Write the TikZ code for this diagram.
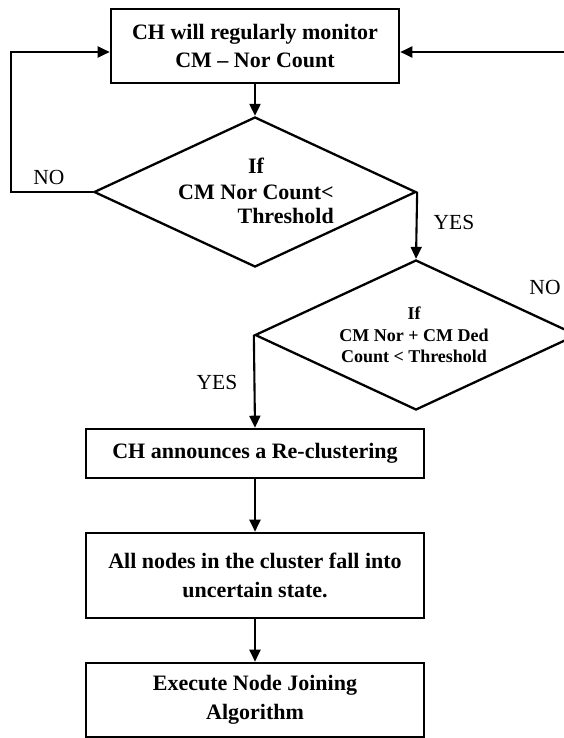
\documentclass[tikz,border=0pt]{standalone}
\usepackage{fontspec}
\setmainfont{Liberation Serif}
\usetikzlibrary{shapes.geometric,arrows.meta}
\begin{document}
\begin{tikzpicture}[x=1pt,y=-1pt,
  box/.style={draw, line width=2.6pt, rectangle, inner sep=0pt, align=center,
    minimum width=338pt, font=\bfseries\fontsize{22}{28.5}\selectfont},
  dec/.style={draw, diamond, line width=2.3pt, inner sep=0pt},
  dectext/.style={font=\bfseries\fontsize{22}{25}\selectfont, inner sep=0pt},
  dectextsmall/.style={font=\bfseries\fontsize{18}{21.5}\selectfont, inner sep=0pt},
  flow/.style={line width=2.1pt, -{Triangle[length=12pt,width=11pt]}},
  tag/.style={font=\fontsize{21.5}{24}\selectfont, inner sep=0pt}]

\useasboundingbox[fill=white] (0,0) rectangle (563,738);

% process boxes
\node[box, minimum width=288pt, minimum height=74pt] (b1) at (255,46)
  {CH will regularly monitor\\CM -- Nor Count};
\node[box, minimum height=49pt] (b2) at (255,453.5) {CH announces a Re-clustering};
\node[box, minimum height=85pt] (b3) at (255,575.5)
  {All nodes in the cluster fall into\\uncertain state.};
\node[box, minimum height=74pt] (b4) at (255,700)
  {Execute Node Joining\\Algorithm};

% decisions
\node[dec, minimum width=322pt, minimum height=150pt,
  label={[dectext, xshift=1pt, yshift=-2pt]center:{\begin{tabular}{@{}c@{}}If\\CM Nor Count<\\\hfill Threshold\end{tabular}}}]
  (d1) at (255,192) {};
\node[dec, minimum width=322pt, minimum height=150pt,
  label={[dectextsmall, xshift=-2pt, yshift=-2pt]center:{\begin{tabular}{@{}c@{}}If\\CM Nor + CM Ded\\Count < Threshold\end{tabular}}}]
  (d2) at (416,335) {};

% connectors
\draw[flow] (b1.south) -- (d1.north);
\draw[flow] (d1.west) -- ++(-81.5,0) |- ([yshift=-6pt]b1.west);
\draw[flow] (d1.east) -- (d2.north);
\draw[flow] (d2.east) -- ++(20,0) |- ([yshift=-6pt]b1.east);
\draw[flow] (d2.west) -- (b2.north);
\draw[flow] (b2.south) -- (b3.north);
\draw[flow] (b3.south) -- (b4.north);

% branch labels
\node[tag] (no1) at (49,177) {NO};
\node[tag] (yes1) at (454,222) {YES};
\node[tag] (no2) at (545,287) {NO};
\node[tag] (yes2) at (217,382) {YES};
\end{tikzpicture}
\end{document}
